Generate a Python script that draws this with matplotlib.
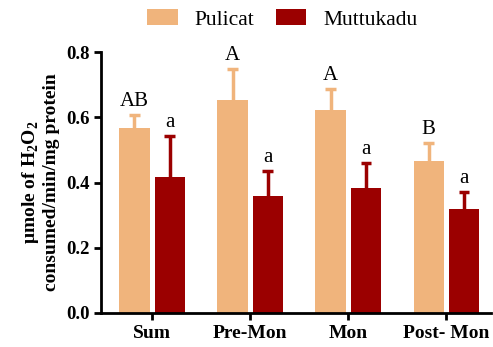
import numpy as np
import matplotlib.pyplot as plt

plt.rcParams['font.family'] = ['Liberation Serif', 'DejaVu Serif']
plt.rcParams['mathtext.fontset'] = 'custom'
plt.rcParams['mathtext.rm'] = 'Liberation Serif'
plt.rcParams['mathtext.bf'] = 'Liberation Serif:bold'

seasons = ['Sum', 'Pre-Mon', 'Mon', 'Post- Mon']
pulicat = [0.567, 0.653, 0.622, 0.466]
pulicat_err = [0.040, 0.095, 0.065, 0.055]
muttukadu = [0.418, 0.359, 0.383, 0.319]
muttukadu_err = [0.125, 0.076, 0.077, 0.052]
pulicat_letters = ['AB', 'A', 'A', 'B']
muttukadu_letters = ['a', 'a', 'a', 'a']

c_pul = '#F0B47C'
c_mut = '#9B0000'

fig = plt.figure(figsize=(4.93, 3.47), dpi=100)
ax = fig.add_axes([0.205, 0.098, 0.79, 0.752])

x = np.arange(len(seasons))
w = 0.31
off = 0.18
cap = 0.055

for pos, vals, errs, col, lab in [(x - off, pulicat, pulicat_err, c_pul, 'Pulicat'),
                                  (x + off, muttukadu, muttukadu_err, c_mut, 'Muttukadu')]:
    vals = np.array(vals)
    errs = np.array(errs)
    ax.bar(pos, vals, w, color=col, label=lab, zorder=2)
    # upper error bars only, stem starts at bar top
    ax.vlines(pos, vals, vals + errs, color=col, lw=2.5, zorder=1)
    ax.hlines(vals + errs, pos - cap, pos + cap, color=col, lw=2.5, zorder=1)

for i in range(len(seasons)):
    ax.text(x[i] - off, pulicat[i] + pulicat_err[i] + 0.012, pulicat_letters[i],
            ha='center', va='bottom', fontsize=15)
    ax.text(x[i] + off, muttukadu[i] + muttukadu_err[i] + 0.012, muttukadu_letters[i],
            ha='center', va='bottom', fontsize=15)

ax.set_xlim(-0.52, 3.45)
ax.set_ylim(0, 0.8)
ax.set_yticks([0.0, 0.2, 0.4, 0.6, 0.8])
ax.set_yticklabels(['0.0', '0.2', '0.4', '0.6', '0.8'], fontweight='bold', fontsize=13.5)
ax.set_xticks(x)
ax.set_xticklabels(seasons, fontweight='bold', fontsize=14)
ax.tick_params(axis='both', direction='out', width=2, length=5, colors='black')
ax.tick_params(axis='x', pad=4)
ax.tick_params(axis='y', pad=3)
for s in ['top', 'right']:
    ax.spines[s].set_visible(False)
for s in ['left', 'bottom']:
    ax.spines[s].set_linewidth(2)

ax.set_ylabel('$\\mathbf{\\mu}$mole of H$_\\mathbf{2}$O$_\\mathbf{2}$\nconsumed/min/mg protein',
              fontweight='bold', fontsize=14, labelpad=5, linespacing=1.1)

fig.legend(loc='upper center', bbox_to_anchor=(0.573, 1.03), ncol=2, frameon=False,
           fontsize=15.5, handlelength=1.4, handleheight=0.8, columnspacing=1.0,
           handletextpad=0.8)

fig.savefig('out.png', dpi=100)
